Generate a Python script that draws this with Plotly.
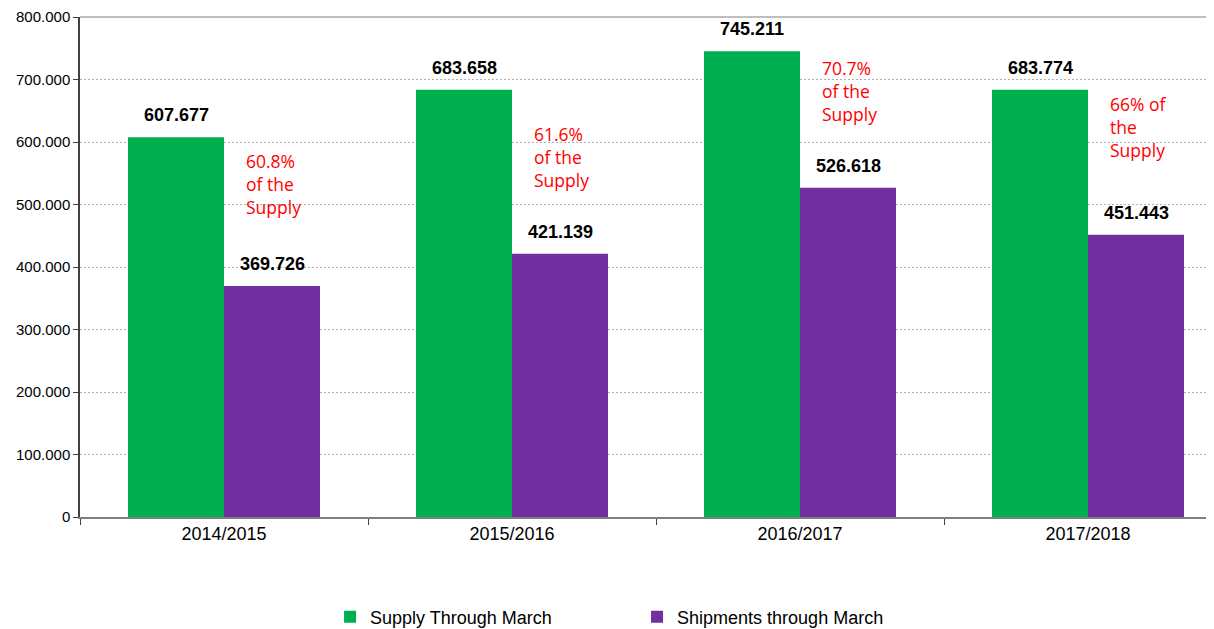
import plotly.graph_objects as go

categories = ["2014/2015", "2015/2016", "2016/2017", "2017/2018"]
supply = [607677, 683658, 745211, 683774]
shipments = [369726, 421139, 526618, 451443]
share_notes = ["60.8%<br>of the<br>Supply", "61.6%<br>of the<br>Supply",
               "70.7%<br>of the<br>Supply", "66% of<br>the<br>Supply"]
# vertical placement (top of note, in axis units) for the red notes
note_top = [592000, 636000, 741000, 684000]

GREEN = "#00B050"
PURPLE = "#7030A0"
FONT = "Liberation Sans, Arial, sans-serif"

fig = go.Figure()
fig.add_trace(go.Bar(x=categories, y=supply, name="Supply Through March",
                     marker=dict(color=GREEN, line=dict(width=0))))
fig.add_trace(go.Bar(x=categories, y=shipments, name="Shipments through March",
                     marker=dict(color=PURPLE, line=dict(width=0))))

def fmt(v):
    return f"{v:,}".replace(",", ".")

ann = []
for c, s, p in zip(categories, supply, shipments):
    ann.append(dict(x=c, y=s, xshift=-48, yshift=10, yanchor="bottom", text=f"<b>{fmt(s)}</b>",
                    showarrow=False, font=dict(size=18, color="black", family=FONT)))
    ann.append(dict(x=c, y=p, xshift=48, yshift=10, yanchor="bottom", text=f"<b>{fmt(p)}</b>",
                    showarrow=False, font=dict(size=18, color="black", family=FONT)))
for c, t, yt in zip(categories, share_notes, note_top):
    ann.append(dict(x=c, y=yt, xshift=20, xanchor="left", yanchor="top", align="left",
                    text=t, showarrow=False,
                    font=dict(size=17.5, color="#FF0000", family="Open Sans, sans-serif")))

fig.update_layout(
    width=1206, height=621,
    margin=dict(l=72, r=0, t=9, b=112, autoexpand=False),
    plot_bgcolor="white", paper_bgcolor="white",
    barmode="group", bargap=1/3, bargroupgap=0,
    separators=",.",
    font=dict(family=FONT, color="#000000"),
    annotations=ann,
    showlegend=True,
    legend=dict(orientation="h", x=0.2205, xanchor="left", y=-0.2, yanchor="middle",
                font=dict(size=18, family=FONT, color="#000000"),
                itemwidth=30, entrywidth=262, entrywidthmode="pixels",
                traceorder="normal"),
    xaxis=dict(range=[-0.5, 3.4375], showline=True, linecolor="#7f7f7f", linewidth=1.5,
               ticks="outside", tickson="boundaries", ticklen=6, tickcolor="#404040",
               tickfont=dict(size=18, family=FONT, color="#000000"), showgrid=False),
    yaxis=dict(range=[0, 800000], tickvals=[0, 100000, 200000, 300000, 400000, 500000, 600000, 700000, 800000],
               tickformat=",.0f", showline=True, linecolor="#404040", linewidth=1.5,
               ticks="outside", ticklen=5, tickcolor="#404040", ticklabeloverflow="allow",
               tickfont=dict(size=15, family=FONT, color="#000000"),
               showgrid=True, gridcolor="#b0b0b0", griddash="2px,2px", gridwidth=1,
               zeroline=False),
    shapes=[dict(type="line", xref="paper", yref="paper", x0=0, x1=1, y0=1, y1=1,
                 line=dict(color="#bfbfbf", width=2))],
)

fig.write_html("out.html")
